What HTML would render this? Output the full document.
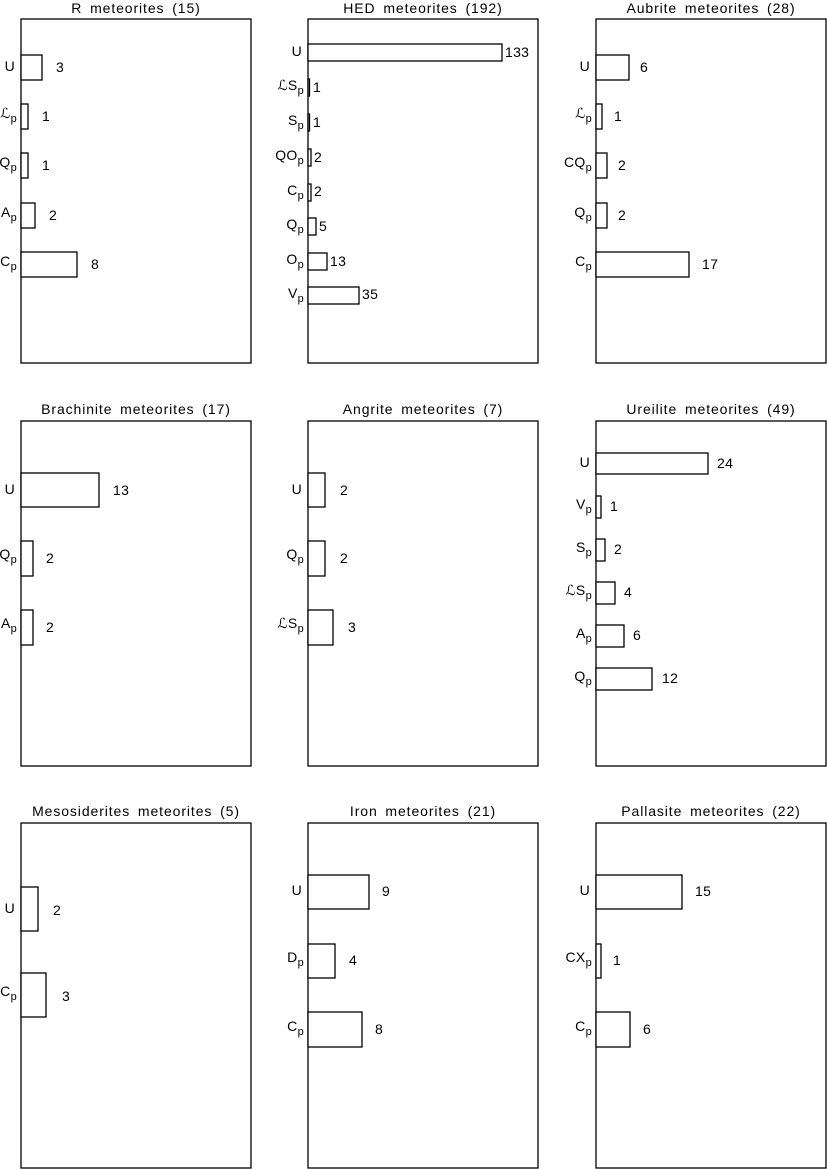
<!DOCTYPE html>
<html><head><meta charset="utf-8"><style>
html,body{margin:0;padding:0;background:#fff}
svg{display:block}
text{font-family:"Liberation Sans",sans-serif;font-size:14px;fill:#000;letter-spacing:0.3px}
.t{letter-spacing:0.9px;word-spacing:3px}
.s{font-size:11px}
rect{fill:#fff;stroke:#000;stroke-width:1.3}
</style></head><body>
<svg width="827" height="1169" viewBox="0 0 827 1169" xmlns="http://www.w3.org/2000/svg">
<rect x="21" y="19" width="230" height="344"/>
<rect x="308" y="19" width="230" height="344"/>
<rect x="596" y="19" width="230" height="344"/>
<rect x="21" y="421" width="230" height="345"/>
<rect x="308" y="421" width="230" height="345"/>
<rect x="596" y="421" width="230" height="345"/>
<rect x="21" y="823" width="230" height="345"/>
<rect x="308" y="823" width="230" height="345"/>
<rect x="596" y="823" width="230" height="345"/>
<text class="t" x="136" y="13" text-anchor="middle">R meteorites (15)</text>
<text class="t" x="423" y="13" text-anchor="middle">HED meteorites (192)</text>
<text class="t" x="711" y="13" text-anchor="middle">Aubrite meteorites (28)</text>
<text class="t" x="136" y="414" text-anchor="middle">Brachinite meteorites (17)</text>
<text class="t" x="423" y="414" text-anchor="middle">Angrite meteorites (7)</text>
<text class="t" x="711" y="414" text-anchor="middle">Ureilite meteorites (49)</text>
<text class="t" x="136" y="816" text-anchor="middle">Mesosiderites meteorites (5)</text>
<text class="t" x="423" y="816" text-anchor="middle">Iron meteorites (21)</text>
<text class="t" x="711" y="816" text-anchor="middle">Pallasite meteorites (22)</text>

<rect x="21" y="55" width="21" height="25"/><text x="15" y="71" text-anchor="end">U</text><text x="56" y="72">3</text>
<rect x="21" y="104" width="7" height="25"/><text x="17" y="118" text-anchor="end">ℒ<tspan class="s" dy="4">p</tspan></text><text x="42" y="121">1</text>
<rect x="21" y="153" width="7" height="25"/><text x="17" y="167" text-anchor="end">Q<tspan class="s" dy="4">p</tspan></text><text x="42" y="170">1</text>
<rect x="21" y="203" width="14" height="25"/><text x="17" y="217" text-anchor="end">A<tspan class="s" dy="4">p</tspan></text><text x="49" y="220">2</text>
<rect x="21" y="252" width="56" height="25"/><text x="17" y="266" text-anchor="end">C<tspan class="s" dy="4">p</tspan></text><text x="91" y="269">8</text>

<rect x="308" y="44" width="194" height="17"/><text x="302" y="56" text-anchor="end">U</text><text x="505" y="57">133</text>
<rect x="308" y="79" width="1.5" height="17"/><text x="304" y="90" text-anchor="end">ℒS<tspan class="s" dy="4">p</tspan></text><text x="313" y="92">1</text>
<rect x="308" y="114" width="1.5" height="17"/><text x="304" y="125" text-anchor="end">S<tspan class="s" dy="4">p</tspan></text><text x="313" y="127">1</text>
<rect x="308" y="149" width="3" height="17"/><text x="304" y="160" text-anchor="end">QO<tspan class="s" dy="4">p</tspan></text><text x="314" y="162">2</text>
<rect x="308" y="184" width="3" height="17"/><text x="304" y="195" text-anchor="end">C<tspan class="s" dy="4">p</tspan></text><text x="314" y="196">2</text>
<rect x="308" y="218" width="8" height="17"/><text x="304" y="229" text-anchor="end">Q<tspan class="s" dy="4">p</tspan></text><text x="319" y="231">5</text>
<rect x="308" y="253" width="19" height="17"/><text x="304" y="264" text-anchor="end">O<tspan class="s" dy="4">p</tspan></text><text x="330" y="266">13</text>
<rect x="308" y="287" width="51" height="17"/><text x="304" y="298" text-anchor="end">V<tspan class="s" dy="4">p</tspan></text><text x="362" y="299">35</text>

<rect x="596" y="55" width="33" height="25"/><text x="590" y="71" text-anchor="end">U</text><text x="640" y="72">6</text>
<rect x="596" y="104" width="6" height="25"/><text x="592" y="118" text-anchor="end">ℒ<tspan class="s" dy="4">p</tspan></text><text x="614" y="121">1</text>
<rect x="596" y="153" width="11" height="25"/><text x="592" y="167" text-anchor="end">CQ<tspan class="s" dy="4">p</tspan></text><text x="618" y="170">2</text>
<rect x="596" y="203" width="11" height="25"/><text x="592" y="217" text-anchor="end">Q<tspan class="s" dy="4">p</tspan></text><text x="618" y="220">2</text>
<rect x="596" y="252" width="93" height="25"/><text x="592" y="266" text-anchor="end">C<tspan class="s" dy="4">p</tspan></text><text x="702" y="269">17</text>

<rect x="21" y="473" width="78" height="34"/><text x="15" y="494" text-anchor="end">U</text><text x="113" y="495">13</text>
<rect x="21" y="541" width="12" height="35"/><text x="17" y="559" text-anchor="end">Q<tspan class="s" dy="4">p</tspan></text><text x="46" y="563">2</text>
<rect x="21" y="610" width="12" height="35"/><text x="17" y="628" text-anchor="end">A<tspan class="s" dy="4">p</tspan></text><text x="46" y="632">2</text>

<rect x="308" y="473" width="17" height="34"/><text x="302" y="494" text-anchor="end">U</text><text x="340" y="495">2</text>
<rect x="308" y="541" width="17" height="35"/><text x="304" y="559" text-anchor="end">Q<tspan class="s" dy="4">p</tspan></text><text x="340" y="563">2</text>
<rect x="308" y="610" width="25" height="35"/><text x="304" y="628" text-anchor="end">ℒS<tspan class="s" dy="4">p</tspan></text><text x="348" y="632">3</text>

<rect x="596" y="453" width="112" height="21"/><text x="590" y="467" text-anchor="end">U</text><text x="717" y="468">24</text>
<rect x="596" y="496" width="5" height="22"/><text x="592" y="509" text-anchor="end">V<tspan class="s" dy="4">p</tspan></text><text x="610" y="511">1</text>
<rect x="596" y="539" width="9" height="22"/><text x="592" y="552" text-anchor="end">S<tspan class="s" dy="4">p</tspan></text><text x="614" y="554">2</text>
<rect x="596" y="582" width="19" height="22"/><text x="592" y="595" text-anchor="end">ℒS<tspan class="s" dy="4">p</tspan></text><text x="624" y="597">4</text>
<rect x="596" y="625" width="28" height="22"/><text x="592" y="638" text-anchor="end">A<tspan class="s" dy="4">p</tspan></text><text x="633" y="640">6</text>
<rect x="596" y="668" width="56" height="22"/><text x="592" y="681" text-anchor="end">Q<tspan class="s" dy="4">p</tspan></text><text x="662" y="683">12</text>

<rect x="21" y="887" width="17" height="44"/><text x="15" y="913" text-anchor="end">U</text><text x="53" y="915">2</text>
<rect x="21" y="973" width="25" height="44"/><text x="17" y="996" text-anchor="end">C<tspan class="s" dy="4">p</tspan></text><text x="62" y="1001">3</text>

<rect x="308" y="875" width="61" height="34"/><text x="302" y="895" text-anchor="end">U</text><text x="382" y="896">9</text>
<rect x="308" y="944" width="27" height="34"/><text x="304" y="962" text-anchor="end">D<tspan class="s" dy="4">p</tspan></text><text x="349" y="965">4</text>
<rect x="308" y="1012" width="54" height="35"/><text x="304" y="1031" text-anchor="end">C<tspan class="s" dy="4">p</tspan></text><text x="375" y="1034">8</text>

<rect x="596" y="875" width="86" height="34"/><text x="590" y="895" text-anchor="end">U</text><text x="695" y="896">15</text>
<rect x="596" y="944" width="5" height="34"/><text x="592" y="962" text-anchor="end">CX<tspan class="s" dy="4">p</tspan></text><text x="613" y="965">1</text>
<rect x="596" y="1012" width="34" height="35"/><text x="592" y="1031" text-anchor="end">C<tspan class="s" dy="4">p</tspan></text><text x="643" y="1034">6</text>
</svg>
</body></html>
